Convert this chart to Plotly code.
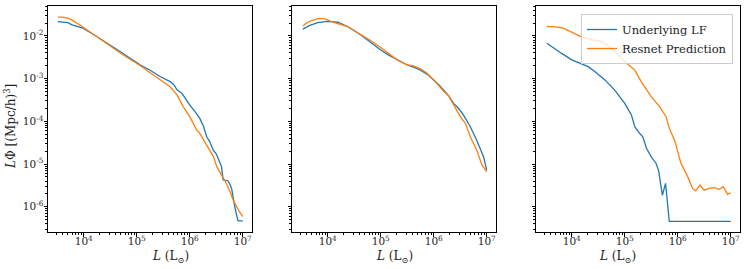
import numpy as np
import plotly.graph_objects as go

# ---- data (log10 values) ----
# Panel 1
p1_blue_logL = [3.51, 3.60, 3.70, 3.78, 3.97, 4.20, 4.40, 4.59, 4.69, 4.85, 5.07, 5.26, 5.44, 5.63, 5.70, 5.76, 5.85, 5.92, 6.00, 6.10, 6.19, 6.26, 6.32, 6.38, 6.44, 6.50, 6.54, 6.60, 6.63, 6.68, 6.72, 6.76, 6.79, 6.85, 6.91, 7.00]
p1_blue_logP = [-1.665, -1.67, -1.69, -1.74, -1.81, -1.98, -2.13, -2.29, -2.37, -2.50, -2.68, -2.81, -2.95, -3.07, -3.14, -3.26, -3.34, -3.47, -3.62, -3.77, -3.93, -4.12, -4.36, -4.48, -4.67, -4.76, -4.90, -5.06, -5.37, -5.39, -5.39, -5.48, -5.57, -6.00, -6.33, -6.33]
p1_orng_logL = [3.51, 3.59, 3.68, 3.78, 3.97, 4.20, 4.40, 4.59, 4.69, 4.85, 5.07, 5.26, 5.44, 5.63, 5.76, 5.88, 6.00, 6.13, 6.19, 6.28, 6.38, 6.45, 6.51, 6.60, 6.69, 6.76, 6.82, 6.91, 7.00]
p1_orng_logP = [-1.56, -1.56, -1.58, -1.63, -1.78, -1.98, -2.16, -2.33, -2.40, -2.53, -2.70, -2.87, -3.03, -3.19, -3.38, -3.66, -3.89, -4.20, -4.28, -4.47, -4.67, -4.83, -5.06, -5.24, -5.45, -5.64, -5.84, -6.06, -6.23]

# Panel 2
p2_blue_logL = [3.53, 3.65, 3.81, 4.00, 4.19, 4.375, 4.625, 4.80, 5.00, 5.15, 5.31, 5.50, 5.62, 5.75, 5.88, 6.00, 6.10, 6.19, 6.28, 6.375, 6.47, 6.56, 6.69, 6.81, 6.94, 7.00]
p2_blue_logP = [-1.84, -1.76, -1.69, -1.66, -1.68, -1.78, -1.98, -2.15, -2.33, -2.45, -2.56, -2.68, -2.73, -2.80, -2.90, -3.03, -3.15, -3.27, -3.40, -3.58, -3.70, -3.85, -4.125, -4.44, -4.83, -5.14]
p2_orng_logL = [3.53, 3.60, 3.69, 3.84, 3.94, 4.125, 4.375, 4.625, 4.80, 5.00, 5.15, 5.31, 5.50, 5.62, 5.75, 5.875, 6.00, 6.10, 6.19, 6.28, 6.375, 6.50, 6.60, 6.69, 6.81, 6.91, 7.00]
p2_orng_logP = [-1.77, -1.70, -1.64, -1.59, -1.60, -1.69, -1.78, -1.96, -2.10, -2.27, -2.42, -2.56, -2.68, -2.70, -2.77, -2.875, -3.03, -3.18, -3.30, -3.40, -3.62, -3.89, -4.05, -4.36, -4.67, -5.02, -5.18]

# Panel 3
p3_blue_logL = [3.53, 3.65, 3.81, 4.00, 4.15, 4.31, 4.44, 4.625, 4.81, 5.00, 5.125, 5.19, 5.28, 5.34, 5.41, 5.50, 5.59, 5.64, 5.71, 5.77, 5.84, 7.00]
p3_blue_logP = [-2.17, -2.28, -2.41, -2.56, -2.64, -2.72, -2.84, -3.03, -3.27, -3.58, -3.85, -4.125, -4.28, -4.36, -4.63, -4.83, -4.98, -5.16, -5.73, -5.45, -6.34, -6.34]
p3_orng_logL = [3.53, 3.69, 3.84, 4.03, 4.19, 4.375, 4.56, 4.75, 5.00, 5.19, 5.31, 5.50, 5.66, 5.78, 5.84, 5.94, 6.06, 6.19, 6.28, 6.34, 6.42, 6.50, 6.59, 6.69, 6.78, 6.86, 6.94, 7.00]
p3_orng_logP = [-1.78, -1.79, -1.82, -1.94, -2.03, -2.09, -2.13, -2.29, -2.60, -2.80, -3.07, -3.42, -3.66, -3.89, -4.16, -4.44, -4.98, -5.30, -5.57, -5.625, -5.49, -5.61, -5.57, -5.55, -5.59, -5.53, -5.71, -5.67]

panels = [
    (p1_blue_logL, p1_blue_logP, p1_orng_logL, p1_orng_logP),
    (p2_blue_logL, p2_blue_logP, p2_orng_logL, p2_orng_logP),
    (p3_blue_logL, p3_blue_logP, p3_orng_logL, p3_orng_logP),
]
series_names = ["Underlying LF", "Resnet Prediction"]
x_tick_exp = [4, 5, 6, 7]
y_tick_exp = [-2, -3, -4, -5, -6]

BLUE = "#1f77b4"
ORANGE = "#ff7f0e"
FONT = "DejaVu Serif"
W, H = 747, 269

fig = go.Figure()
doms = [(48, 252), (292, 496), (536, 740)]
ydom = [(H - 232) / H, (H - 6) / H]

xminor = [m * 10.0 ** e for e in range(3, 8) for m in range(2, 10)]
yminor = [m * 10.0 ** e for e in range(-7, -1) for m in range(2, 10)]

for i, (bl, bp, ol, op) in enumerate(panels):
    k = "" if i == 0 else str(i + 1)
    fig.add_trace(go.Scatter(x=10 ** np.array(bl), y=10 ** np.array(bp), mode="lines",
                             line=dict(color=BLUE, width=1.3), name=series_names[0],
                             showlegend=(i == 2), xaxis="x" + k, yaxis="y" + k))
    fig.add_trace(go.Scatter(x=10 ** np.array(ol), y=10 ** np.array(op), mode="lines",
                             line=dict(color=ORANGE, width=1.3), name=series_names[1],
                             showlegend=(i == 2), xaxis="x" + k, yaxis="y" + k))
    axcommon = dict(showline=True, linecolor="black", linewidth=1, mirror=True,
                    ticks="outside", ticklen=3.5, tickwidth=0.8, tickcolor="black",
                    showgrid=False, zeroline=False, type="log",
                    tickfont=dict(family=FONT, size=10.5, color="#222"))
    fig.update_layout(**{
        "xaxis" + k: dict(axcommon, domain=[doms[i][0] / W, doms[i][1] / W],
                          range=[3.325, 7.175], anchor="y" + k, ticklabelstandoff=-4,
                          tickvals=[10.0 ** e for e in x_tick_exp],
                          ticktext=["10<sup>%d</sup>" % e for e in x_tick_exp],
                          minor=dict(ticks="outside", ticklen=2, tickwidth=0.6,
                                     tickcolor="black", tickvals=xminor, showgrid=False)),
        "yaxis" + k: dict(axcommon, domain=ydom, range=[-6.59, -1.30], anchor="x" + k,
                          ticklabelstandoff=-2,
                          tickvals=[10.0 ** e for e in y_tick_exp],
                          ticktext=(["10<sup>%d</sup>" % e for e in y_tick_exp] if i == 0 else [""] * 5),
                          minor=dict(ticks="outside", ticklen=2, tickwidth=0.6,
                                     tickcolor="black", tickvals=yminor, showgrid=False)),
    })

annots = []
for i in range(3):
    annots.append(dict(text="<i>L</i> (L<sub>⊙</sub>)", x=(doms[i][0] + doms[i][1]) / 2 / W,
                       y=(H - 257) / H, xref="paper", yref="paper", showarrow=False,
                       font=dict(family=FONT, size=12, color="#222"), yanchor="middle"))
annots.append(dict(text="<i>L</i>Φ [(Mpc/h)<sup>3</sup>]", x=10 / W, y=(H - 127) / H,
                   xref="paper", yref="paper", showarrow=False, textangle=-90,
                   font=dict(family=FONT, size=12, color="#222"), xanchor="center", yanchor="middle"))

fig.update_layout(
    width=W, height=H, margin=dict(l=0, r=0, t=0, b=0),
    paper_bgcolor="white", plot_bgcolor="white",
    annotations=annots,
    legend=dict(x=733 / W, y=(H - 14) / H, xanchor="right", yanchor="top",
                bgcolor="rgba(255,255,255,0.8)", bordercolor="#cccccc", borderwidth=1,
                font=dict(family=FONT, size=11.5, color="#222"), tracegroupgap=0),
)

fig.write_html("out.html", config={"displayModeBar": False},
               post_script="document.body.style.margin='0';")
